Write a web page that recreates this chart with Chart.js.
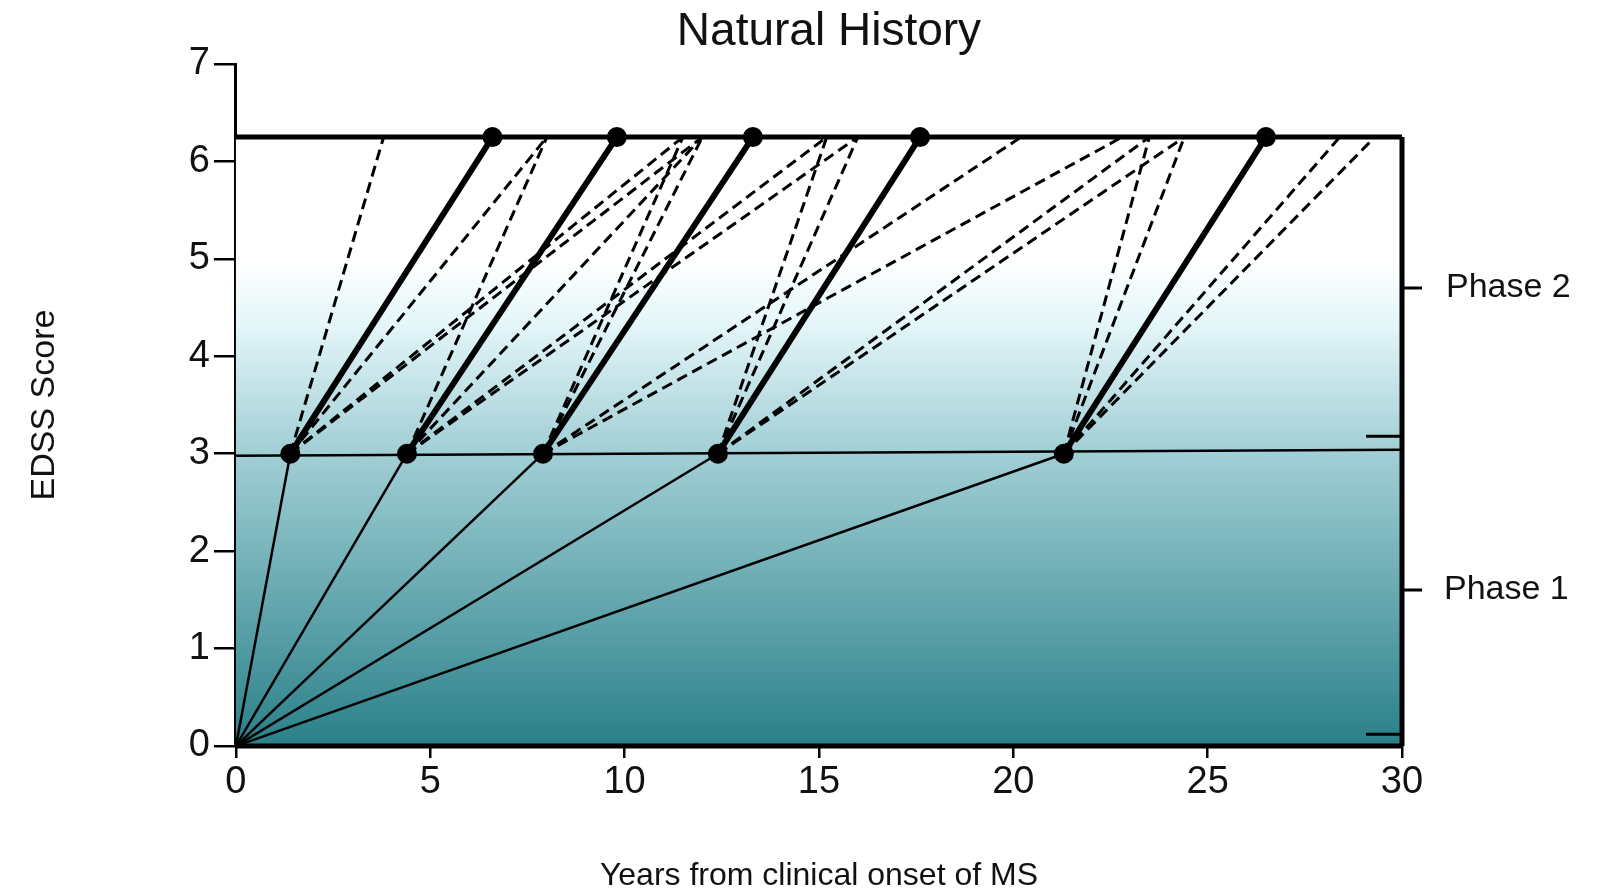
<!DOCTYPE html>
<html>
<head>
<meta charset="utf-8">
<script src="https://cdn.jsdelivr.net/npm/chart.js@4/dist/chart.umd.min.js"></script>
<style>
  html, body { margin: 0; padding: 0; background: #fff; overflow: hidden; }
  #wrap { width: 1616px; height: 895px; }
</style>
</head>
<body>
<div id="wrap"><canvas id="chart"></canvas></div>
<script>
// Years at which each patient reaches EDSS 3 (end of phase 1)
const phase1Years = [1.4, 4.4, 7.9, 12.4, 21.3];
const phase1Score = 3;
const phase2Score = 6.25;
// Typical progression: year reaching EDSS 6 (thick lines)
const thickEndYears = [6.6, 9.8, 13.3, 17.6, 26.5];
// Other possible trajectories (dashed lines), one list per origin
const dashedEndYears = [
    [3.8, 8.0, 11.5, 12.0],
    [8.0, 12.0, 15.2, 16.0],
    [11.5, 12.0, 20.2, 22.8],
    [15.2, 16.0, 23.5, 24.4],
    [23.5, 24.4, 28.4, 29.3]
];
const xTicks = [0, 5, 10, 15, 20, 25, 30];
const yTicks = [0, 1, 2, 3, 4, 5, 6, 7];

const FONT = '"Liberation Sans", Arial, sans-serif';

const datasets = [];
phase1Years.forEach((yr, i) => {
    datasets.push({
        data: [{x: 0, y: 0}, {x: yr, y: phase1Score}],
        borderColor: '#000', borderWidth: 2.5, pointRadius: 0, showLine: true
    });
    dashedEndYears[i].forEach(end => {
        datasets.push({
            data: [{x: yr, y: phase1Score}, {x: end, y: phase2Score}],
            borderColor: '#000', borderWidth: 3, borderDash: [11, 6],
            pointRadius: 0, showLine: true
        });
    });
    datasets.push({
        data: [{x: yr, y: phase1Score}, {x: thickEndYears[i], y: phase2Score}],
        borderColor: '#000', borderWidth: 6, pointRadius: 7,
        pointBackgroundColor: '#000', pointBorderColor: '#000', showLine: true
    });
});

// Gradient box, horizontal reference lines, right-side phase labels, title
const backdrop = {
    id: 'backdrop',
    beforeDatasetsDraw(chart) {
        const {ctx, scales: {x, y}} = chart;
        const l = x.getPixelForValue(0), r = x.getPixelForValue(30);
        const t = y.getPixelForValue(phase2Score), b = y.getPixelForValue(0);
        const g = ctx.createLinearGradient(0, t, 0, b);
        g.addColorStop(0, '#ffffff');
        g.addColorStop(0.2, '#ffffff');
        g.addColorStop(0.3, '#e6f7fa');
        g.addColorStop(0.5, '#a6d2d8');
        g.addColorStop(1, '#2a8089');
        ctx.save();
        ctx.fillStyle = g;
        ctx.fillRect(l, t, r - l, b - t);
        ctx.strokeStyle = '#000';
        ctx.lineWidth = 2.5;
        ctx.beginPath();
        ctx.moveTo(l, y.getPixelForValue(2.98));
        ctx.lineTo(r, y.getPixelForValue(3.04));
        ctx.stroke();
        ctx.lineWidth = 5;
        ctx.beginPath();
        ctx.moveTo(l, t); ctx.lineTo(r, t);
        ctx.moveTo(l, b); ctx.lineTo(r, b);
        ctx.moveTo(r, t); ctx.lineTo(r, b);
        ctx.stroke();
        ctx.restore();
    },
    afterDraw(chart) {
        const {ctx, scales: {x, y}} = chart;
        const r = x.getPixelForValue(30);
        ctx.save();
        ctx.strokeStyle = '#000';
        ctx.lineWidth = 3;
        ctx.beginPath();
        [4.7, 1.6].forEach(v => {
            ctx.moveTo(r, y.getPixelForValue(v)); ctx.lineTo(r + 20, y.getPixelForValue(v));
        });
        ctx.moveTo(r - 36, y.getPixelForValue(3.18)); ctx.lineTo(r, y.getPixelForValue(3.18));
        ctx.moveTo(r - 36, y.getPixelForValue(0.12)); ctx.lineTo(r, y.getPixelForValue(0.12));
        ctx.stroke();
        ctx.fillStyle = '#111';
        ctx.font = '34px ' + FONT;
        ctx.textBaseline = 'middle';
        ctx.fillText('Phase 2', r + 44, y.getPixelForValue(4.7));
        ctx.fillText('Phase 1', r + 42, y.getPixelForValue(1.6));
        ctx.font = '46px ' + FONT;
        ctx.textAlign = 'center';
        ctx.fillText('Natural History', (x.left + x.right) / 2 + 10, 32);
        ctx.restore();
    }
};

new Chart(document.getElementById('chart'), {
    type: 'scatter',
    data: {datasets},
    options: {
        responsive: true,
        maintainAspectRatio: false,
        animation: false,
        layout: {padding: {left: 24, right: 214, top: 64, bottom: 0}},
        plugins: {
            legend: {display: false},
            tooltip: {enabled: false},
            title: {display: false}
        },
        scales: {
            x: {
                type: 'linear', min: 0, max: 30,
                afterBuildTicks: s => { s.ticks = xTicks.map(v => ({value: v})); },
                grid: {drawOnChartArea: false, drawTicks: true, tickLength: 12, color: '#000', lineWidth: 2.5},
                border: {display: false},
                ticks: {color: '#111', font: {family: FONT, size: 38}, padding: 2},
                title: {display: true, text: 'Years from clinical onset of MS', color: '#111',
                        font: {family: FONT, size: 32}, padding: {top: 49, bottom: 0}}
            },
            y: {
                type: 'linear', min: 0, max: 7,
                afterBuildTicks: s => { s.ticks = yTicks.map(v => ({value: v})); },
                grid: {drawOnChartArea: false, drawTicks: true, tickLength: 22, color: '#000', lineWidth: 2.5},
                border: {display: true, color: '#000', width: 3},
                ticks: {color: '#111', font: {family: FONT, size: 38}, padding: 4},
                title: {display: true, text: 'EDSS Score', color: '#111',
                        font: {family: FONT, size: 34}, padding: {top: 0, bottom: 120}}
            }
        }
    },
    plugins: [backdrop]
});
</script>
</body>
</html>
